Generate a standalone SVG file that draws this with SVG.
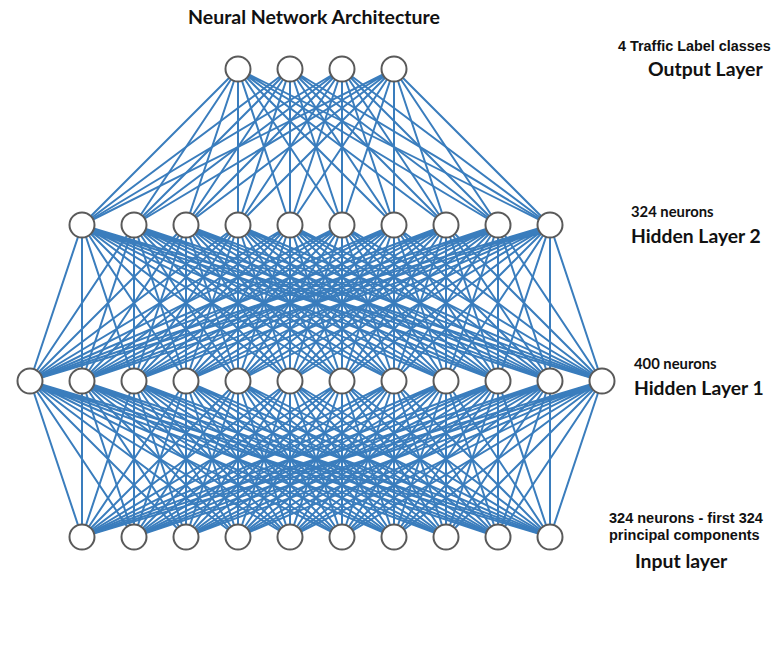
<svg xmlns="http://www.w3.org/2000/svg" width="775" height="651" viewBox="0 0 775 651">
<style>
.c{fill:none;stroke:#3a7dbd;stroke-width:2;stroke-linejoin:round}
.n{fill:#fff;stroke:#5a5a5a;stroke-width:2}
.t{font-family:Lato,"Open Sans",sans-serif;font-weight:bold;fill:#111}
.s{font-family:"Liberation Sans",Arial,sans-serif;font-weight:bold;fill:#111}
</style>
<rect width="775" height="651" fill="#fff"/>
<g id="connectors">
<path class="c" d="M238 69L82 225 238 69 134 225 238 69 186 225 238 69 238 225 238 69 290 225 238 69 342 225 238 69 394 225 238 69 446 225 238 69 498 225 238 69 550 225"/>
<path class="c" d="M290 69L82 225 290 69 134 225 290 69 186 225 290 69 238 225 290 69 290 225 290 69 342 225 290 69 394 225 290 69 446 225 290 69 498 225 290 69 550 225"/>
<path class="c" d="M342 69L82 225 342 69 134 225 342 69 186 225 342 69 238 225 342 69 290 225 342 69 342 225 342 69 394 225 342 69 446 225 342 69 498 225 342 69 550 225"/>
<path class="c" d="M394 69L82 225 394 69 134 225 394 69 186 225 394 69 238 225 394 69 290 225 394 69 342 225 394 69 394 225 394 69 446 225 394 69 498 225 394 69 550 225"/>
<path class="c" d="M82 225L30 381 82 225 82 381 82 225 134 381 82 225 186 381 82 225 238 381 82 225 290 381 82 225 342 381 82 225 394 381 82 225 446 381 82 225 498 381 82 225 550 381 82 225 602 381"/>
<path class="c" d="M134 225L30 381 134 225 82 381 134 225 134 381 134 225 186 381 134 225 238 381 134 225 290 381 134 225 342 381 134 225 394 381 134 225 446 381 134 225 498 381 134 225 550 381 134 225 602 381"/>
<path class="c" d="M186 225L30 381 186 225 82 381 186 225 134 381 186 225 186 381 186 225 238 381 186 225 290 381 186 225 342 381 186 225 394 381 186 225 446 381 186 225 498 381 186 225 550 381 186 225 602 381"/>
<path class="c" d="M238 225L30 381 238 225 82 381 238 225 134 381 238 225 186 381 238 225 238 381 238 225 290 381 238 225 342 381 238 225 394 381 238 225 446 381 238 225 498 381 238 225 550 381 238 225 602 381"/>
<path class="c" d="M290 225L30 381 290 225 82 381 290 225 134 381 290 225 186 381 290 225 238 381 290 225 290 381 290 225 342 381 290 225 394 381 290 225 446 381 290 225 498 381 290 225 550 381 290 225 602 381"/>
<path class="c" d="M342 225L30 381 342 225 82 381 342 225 134 381 342 225 186 381 342 225 238 381 342 225 290 381 342 225 342 381 342 225 394 381 342 225 446 381 342 225 498 381 342 225 550 381 342 225 602 381"/>
<path class="c" d="M394 225L30 381 394 225 82 381 394 225 134 381 394 225 186 381 394 225 238 381 394 225 290 381 394 225 342 381 394 225 394 381 394 225 446 381 394 225 498 381 394 225 550 381 394 225 602 381"/>
<path class="c" d="M446 225L30 381 446 225 82 381 446 225 134 381 446 225 186 381 446 225 238 381 446 225 290 381 446 225 342 381 446 225 394 381 446 225 446 381 446 225 498 381 446 225 550 381 446 225 602 381"/>
<path class="c" d="M498 225L30 381 498 225 82 381 498 225 134 381 498 225 186 381 498 225 238 381 498 225 290 381 498 225 342 381 498 225 394 381 498 225 446 381 498 225 498 381 498 225 550 381 498 225 602 381"/>
<path class="c" d="M550 225L30 381 550 225 82 381 550 225 134 381 550 225 186 381 550 225 238 381 550 225 290 381 550 225 342 381 550 225 394 381 550 225 446 381 550 225 498 381 550 225 550 381 550 225 602 381"/>
<path class="c" d="M30 381L82 537 30 381 134 537 30 381 186 537 30 381 238 537 30 381 290 537 30 381 342 537 30 381 394 537 30 381 446 537 30 381 498 537 30 381 550 537"/>
<path class="c" d="M82 381L82 537 82 381 134 537 82 381 186 537 82 381 238 537 82 381 290 537 82 381 342 537 82 381 394 537 82 381 446 537 82 381 498 537 82 381 550 537"/>
<path class="c" d="M134 381L82 537 134 381 134 537 134 381 186 537 134 381 238 537 134 381 290 537 134 381 342 537 134 381 394 537 134 381 446 537 134 381 498 537 134 381 550 537"/>
<path class="c" d="M186 381L82 537 186 381 134 537 186 381 186 537 186 381 238 537 186 381 290 537 186 381 342 537 186 381 394 537 186 381 446 537 186 381 498 537 186 381 550 537"/>
<path class="c" d="M238 381L82 537 238 381 134 537 238 381 186 537 238 381 238 537 238 381 290 537 238 381 342 537 238 381 394 537 238 381 446 537 238 381 498 537 238 381 550 537"/>
<path class="c" d="M290 381L82 537 290 381 134 537 290 381 186 537 290 381 238 537 290 381 290 537 290 381 342 537 290 381 394 537 290 381 446 537 290 381 498 537 290 381 550 537"/>
<path class="c" d="M342 381L82 537 342 381 134 537 342 381 186 537 342 381 238 537 342 381 290 537 342 381 342 537 342 381 394 537 342 381 446 537 342 381 498 537 342 381 550 537"/>
<path class="c" d="M394 381L82 537 394 381 134 537 394 381 186 537 394 381 238 537 394 381 290 537 394 381 342 537 394 381 394 537 394 381 446 537 394 381 498 537 394 381 550 537"/>
<path class="c" d="M446 381L82 537 446 381 134 537 446 381 186 537 446 381 238 537 446 381 290 537 446 381 342 537 446 381 394 537 446 381 446 537 446 381 498 537 446 381 550 537"/>
<path class="c" d="M498 381L82 537 498 381 134 537 498 381 186 537 498 381 238 537 498 381 290 537 498 381 342 537 498 381 394 537 498 381 446 537 498 381 498 537 498 381 550 537"/>
<path class="c" d="M550 381L82 537 550 381 134 537 550 381 186 537 550 381 238 537 550 381 290 537 550 381 342 537 550 381 394 537 550 381 446 537 550 381 498 537 550 381 550 537"/>
<path class="c" d="M602 381L82 537 602 381 134 537 602 381 186 537 602 381 238 537 602 381 290 537 602 381 342 537 602 381 394 537 602 381 446 537 602 381 498 537 602 381 550 537"/>
</g>
<g id="output-layer">
<circle id="o1" class="n" cx="238" cy="69" r="12.5"/>
<circle id="o2" class="n" cx="290" cy="69" r="12.5"/>
<circle id="o3" class="n" cx="342" cy="69" r="12.5"/>
<circle id="o4" class="n" cx="394" cy="69" r="12.5"/>
</g>
<g id="hidden-layer-2">
<circle id="h2_1" class="n" cx="82" cy="225" r="12.5"/>
<circle id="h2_2" class="n" cx="134" cy="225" r="12.5"/>
<circle id="h2_3" class="n" cx="186" cy="225" r="12.5"/>
<circle id="h2_4" class="n" cx="238" cy="225" r="12.5"/>
<circle id="h2_5" class="n" cx="290" cy="225" r="12.5"/>
<circle id="h2_6" class="n" cx="342" cy="225" r="12.5"/>
<circle id="h2_7" class="n" cx="394" cy="225" r="12.5"/>
<circle id="h2_8" class="n" cx="446" cy="225" r="12.5"/>
<circle id="h2_9" class="n" cx="498" cy="225" r="12.5"/>
<circle id="h2_10" class="n" cx="550" cy="225" r="12.5"/>
</g>
<g id="hidden-layer-1">
<circle id="h1_1" class="n" cx="30" cy="381" r="12.5"/>
<circle id="h1_2" class="n" cx="82" cy="381" r="12.5"/>
<circle id="h1_3" class="n" cx="134" cy="381" r="12.5"/>
<circle id="h1_4" class="n" cx="186" cy="381" r="12.5"/>
<circle id="h1_5" class="n" cx="238" cy="381" r="12.5"/>
<circle id="h1_6" class="n" cx="290" cy="381" r="12.5"/>
<circle id="h1_7" class="n" cx="342" cy="381" r="12.5"/>
<circle id="h1_8" class="n" cx="394" cy="381" r="12.5"/>
<circle id="h1_9" class="n" cx="446" cy="381" r="12.5"/>
<circle id="h1_10" class="n" cx="498" cy="381" r="12.5"/>
<circle id="h1_11" class="n" cx="550" cy="381" r="12.5"/>
<circle id="h1_12" class="n" cx="602" cy="381" r="12.5"/>
</g>
<g id="input-layer">
<circle id="i1" class="n" cx="82" cy="537" r="12.5"/>
<circle id="i2" class="n" cx="134" cy="537" r="12.5"/>
<circle id="i3" class="n" cx="186" cy="537" r="12.5"/>
<circle id="i4" class="n" cx="238" cy="537" r="12.5"/>
<circle id="i5" class="n" cx="290" cy="537" r="12.5"/>
<circle id="i6" class="n" cx="342" cy="537" r="12.5"/>
<circle id="i7" class="n" cx="394" cy="537" r="12.5"/>
<circle id="i8" class="n" cx="446" cy="537" r="12.5"/>
<circle id="i9" class="n" cx="498" cy="537" r="12.5"/>
<circle id="i10" class="n" cx="550" cy="537" r="12.5"/>
</g>
<g id="labels">
<text class="t" x="188" y="24" font-size="19.5">Neural Network Architecture</text>
<text class="s" x="618" y="51" font-size="14.4">4 Traffic Label classes</text>
<text class="t" x="648" y="76" font-size="19.4">Output Layer</text>
<text class="t" x="631" y="217" font-size="14.8">324 neurons</text>
<text class="t" x="631" y="243" font-size="19.3">Hidden Layer 2</text>
<text class="t" x="634" y="369" font-size="14.8">400 neurons</text>
<text class="t" x="634" y="395" font-size="19.3">Hidden Layer 1</text>
<text class="s" x="609" y="523" font-size="14.5">324 neurons - first 324</text>
<text class="s" x="609" y="540" font-size="14.5">principal components</text>
<text class="t" x="635" y="568" font-size="19.4">Input layer</text>
</g>
</svg>
